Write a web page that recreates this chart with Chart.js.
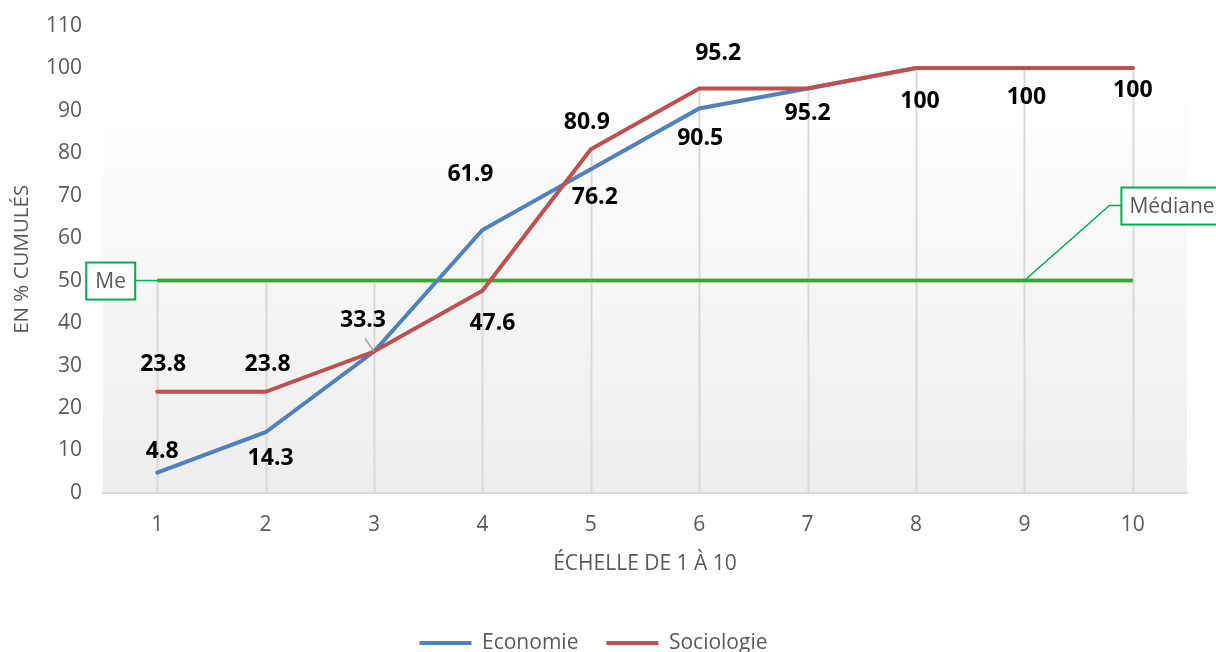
<!DOCTYPE html>
<html>
<head>
<meta charset="utf-8">
<script src="https://cdn.jsdelivr.net/npm/chart.js@4/dist/chart.umd.min.js"></script>
<style>
  html, body { margin: 0; padding: 0; background: #fff; }
  #wrap { width: 1216px; height: 652px; }
</style>
</head>
<body>
<div id="wrap"><canvas id="chart" width="1216" height="652"></canvas></div>
<script>
// ---- data ----
const CATEGORIES = ["1", "2", "3", "4", "5", "6", "7", "8", "9", "10"];
const ECONOMIE   = [4.8, 14.3, 33.3, 61.9, 76.2, 90.5, 95.2, 100, 100, 100];
const SOCIOLOGIE = [23.8, 23.8, 33.3, 47.6, 80.9, 95.2, 95.2, 100, 100, 100];
const MEDIANE    = [50, 50, 50, 50, 50, 50, 50, 50, 50, 50];
const Y_TICKS    = [0, 10, 20, 30, 40, 50, 60, 70, 80, 90, 100, 110];

// which value label goes where (series, index) + nudge in px
const LABEL_PLACES = [
  { ds: 1, i: 0, dx: 6,  dy: -27 },
  { ds: 0, i: 0, dx: 5,  dy: -21 },
  { ds: 1, i: 1, dx: 2,  dy: -27 },
  { ds: 0, i: 1, dx: 5,  dy: 26 },
  { ds: 0, i: 2, dx: -11, dy: -31 },
  { ds: 0, i: 3, dx: -12, dy: -56 },
  { ds: 1, i: 3, dx: 10, dy: 33 },
  { ds: 1, i: 4, dx: -4, dy: -27 },
  { ds: 0, i: 4, dx: 4,  dy: 28 },
  { ds: 1, i: 5, dx: 19, dy: -35 },
  { ds: 0, i: 5, dx: 1,  dy: 30 },
  { ds: 0, i: 6, dx: 0,  dy: 25 },
  { ds: 0, i: 7, dx: 4,  dy: 33 },
  { ds: 0, i: 8, dx: 2,  dy: 29 },
  { ds: 0, i: 9, dx: 0,  dy: 22 },
];

const FONT = "'Open Sans', 'DejaVu Sans', sans-serif";
const GREY = "#595959";

// plot background: soft vertical gradient
const bgPlugin = {
  id: "plotBg",
  beforeDraw(chart) {
    const { ctx, chartArea: a } = chart;
    const g = ctx.createLinearGradient(0, a.top, 0, a.bottom);
    g.addColorStop(0, "#ffffff");
    g.addColorStop(0.12, "#fefefe");
    g.addColorStop(1, "#eeeeee");
    ctx.save();
    ctx.fillStyle = g;
    ctx.fillRect(a.left, a.top, a.right - a.left, a.bottom - a.top);
    ctx.restore();
  },
};

// drop lines from the highest point of each category down to the axis
const dropLines = {
  id: "dropLines",
  beforeDatasetsDraw(chart) {
    const { ctx, scales: { x, y } } = chart;
    ctx.save();
    ctx.strokeStyle = "#d9d9d9";
    ctx.lineWidth = 2;
    CATEGORIES.forEach((c, i) => {
      const top = Math.max(ECONOMIE[i], SOCIOLOGIE[i], MEDIANE[i]);
      const px = Math.round(x.getPixelForValue(i)) + 0.5;
      ctx.beginPath();
      ctx.moveTo(px, y.getPixelForValue(top));
      ctx.lineTo(px, y.getPixelForValue(0));
      ctx.stroke();
    });
    ctx.restore();
  },
};

// value labels + median callouts
const labelsPlugin = {
  id: "valueLabels",
  afterDatasetsDraw(chart) {
    const { ctx, scales: { x, y } } = chart;
    const series = [ECONOMIE, SOCIOLOGIE];
    ctx.save();

    // leader for 33.3
    const p3x = x.getPixelForValue(2), p3y = y.getPixelForValue(ECONOMIE[2]);
    ctx.strokeStyle = "#a6a6a6";
    ctx.lineWidth = 1.5;
    ctx.beginPath();
    ctx.moveTo(p3x - 9, p3y - 13);
    ctx.lineTo(p3x, p3y);
    ctx.stroke();

    ctx.font = "bold 23px " + FONT;
    ctx.fillStyle = "#000";
    ctx.textAlign = "center";
    ctx.textBaseline = "middle";
    for (const p of LABEL_PLACES) {
      const v = series[p.ds][p.i];
      const px = x.getPixelForValue(p.i) + p.dx;
      const py = y.getPixelForValue(v) + p.dy;
      ctx.fillText(String(v), px, py);
    }

    // "Me" callout on the first median point
    const my = y.getPixelForValue(MEDIANE[0]);
    const m0 = x.getPixelForValue(0);
    ctx.strokeStyle = "#00b050";
    ctx.lineWidth = 1.5;
    ctx.beginPath();
    ctx.moveTo(m0 - 22, my);
    ctx.lineTo(m0, my);
    ctx.stroke();
    ctx.fillStyle = "#fff";
    ctx.lineWidth = 2;
    ctx.fillRect(m0 - 71, my - 18, 49, 37);
    ctx.strokeRect(m0 - 71, my - 18, 49, 37);
    ctx.fillStyle = GREY;
    ctx.font = "21px " + FONT;
    ctx.fillText("Me", m0 - 46.5, my + 1);

    // "Médiane" callout on the ninth median point
    const m8 = x.getPixelForValue(8);
    ctx.lineWidth = 1.5;
    ctx.beginPath();
    ctx.moveTo(m8, my);
    ctx.lineTo(m8 + 85, my - 75);
    ctx.lineTo(m8 + 97, my - 75);
    ctx.stroke();
    ctx.fillStyle = "#fff";
    ctx.lineWidth = 2;
    ctx.fillRect(m8 + 97, my - 93, 110, 37);
    ctx.strokeRect(m8 + 97, my - 93, 110, 37);
    ctx.fillStyle = GREY;
    ctx.textAlign = "left";
    ctx.fillText("Médiane", m8 + 105, my - 74);

    ctx.restore();
  },
};

const ctx = document.getElementById("chart").getContext("2d");
new Chart(ctx, {
  type: "line",
  data: {
    labels: CATEGORIES,
    datasets: [
      {
        label: "Economie",
        data: ECONOMIE,
        borderColor: "#4f81bd",
        backgroundColor: "#4f81bd",
        borderWidth: 4,
        borderCapStyle: "round",
        pointRadius: 0,
        order: 1,
      },
      {
        label: "Sociologie",
        data: SOCIOLOGIE,
        borderColor: "#c0504d",
        backgroundColor: "#c0504d",
        borderWidth: 4,
        borderCapStyle: "round",
        pointRadius: 0,
        order: 0,
      },
      {
        label: "Me",
        data: MEDIANE,
        borderColor: "#1fb04c",
        borderWidth: 3,
        pointRadius: 0,
        order: 2,
      },
      {
        label: "Me bord",
        data: MEDIANE,
        borderColor: "#a9c46a",
        borderWidth: 4.5,
        pointRadius: 0,
        order: 3,
      },
    ],
  },
  options: {
    responsive: false,
    animation: false,
    layout: { padding: { top: 7, right: 29, left: 0, bottom: -11.5 } },
    plugins: {
      tooltip: { enabled: false },
      legend: {
        position: "bottom",
        labels: {
          font: { family: FONT, size: 21 },
          color: GREY,
          boxWidth: 52,
          boxHeight: 4,
          padding: 28,
          filter: (item) => item.datasetIndex < 2,
          sort: (a, b) => a.datasetIndex - b.datasetIndex,
          generateLabels: (chart) =>
            chart.data.datasets.map((d, i) => ({
              text: d.label,
              fillStyle: d.borderColor,
              strokeStyle: d.borderColor,
              lineWidth: 0,
              datasetIndex: i,
              fontColor: GREY,
              hidden: false,
            })),
        },
      },
    },
    scales: {
      x: {
        offset: true,
        grid: { display: false },
        border: { display: true, color: "#d9d9d9", width: 2 },
        ticks: { font: { family: FONT, size: 21 }, color: GREY, padding: 11 },
        title: {
          display: true,
          text: "ÉCHELLE DE 1 À 10",
          font: { family: FONT, size: 21 },
          color: GREY,
          padding: { top: 4, bottom: 28 },
        },
        afterFit: (s) => { s.height = 111.5; },
      },
      y: {
        min: 0,
        max: 110,
        afterBuildTicks: (s) => { s.ticks = Y_TICKS.map((v) => ({ value: v })); },
        grid: { display: false },
        border: { display: false },
        ticks: { font: { family: FONT, size: 21 }, color: GREY, padding: 13 },
        title: {
          display: true,
          text: "EN % CUMULÉS",
          font: { family: FONT, size: 20.5 },
          color: GREY,
          padding: { top: 10, bottom: 4 },
        },
        afterFit: (s) => { s.width = 103; },
      },
    },
  },
  plugins: [bgPlugin, dropLines, labelsPlugin],
});
</script>
</body>
</html>
